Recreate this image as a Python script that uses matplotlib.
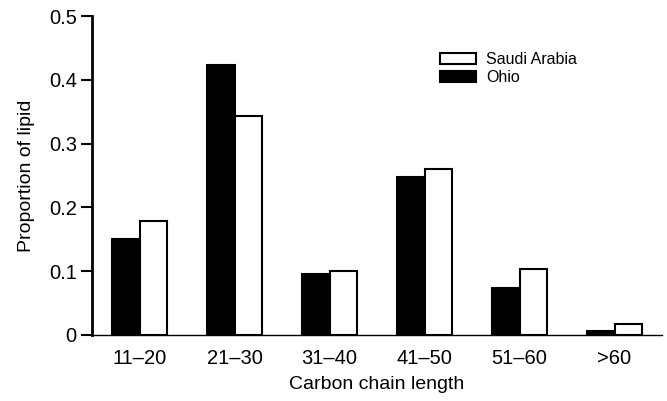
import matplotlib.pyplot as plt
import numpy as np

plt.rcParams['font.family'] = ['Liberation Sans', 'DejaVu Sans']

# data
categories = ['11–20', '21–30', '31–40', '41–50', '51–60', '>60']
ohio = [0.150, 0.423, 0.095, 0.247, 0.074, 0.007]
saudi = [0.178, 0.343, 0.100, 0.261, 0.103, 0.017]

fig = plt.figure(figsize=(6.67, 4.01), dpi=100)
ax = fig.add_axes([0.138, 0.1646, 0.8545, 0.7954])

x = np.arange(len(categories))
w = 0.29
ax.bar(x - w / 2, ohio, w, color='black', edgecolor='black', linewidth=1.5, label='Ohio')
ax.bar(x + w / 2, saudi, w, color='white', edgecolor='black', linewidth=1.5, label='Saudi Arabia')

ax.set_xlim(-0.5, 5.5)
ax.set_ylim(0, 0.5)
ax.set_xticks(x)
ax.set_xticklabels(categories, fontsize=14.5)
ax.set_yticks([0, 0.1, 0.2, 0.3, 0.4, 0.5])
ax.set_yticklabels(['0', '0.1', '0.2', '0.3', '0.4', '0.5'], fontsize=14.5)
ax.tick_params(axis='x', length=0, pad=10)
ax.tick_params(axis='y', length=8, width=1.5, pad=3)

ax.spines['top'].set_visible(False)
ax.spines['right'].set_visible(False)
ax.spines['left'].set_linewidth(2)
ax.spines['bottom'].set_linewidth(1)

ax.set_xlabel('Carbon chain length', fontsize=14, labelpad=6)
ax.set_ylabel('Proportion of lipid', fontsize=14, labelpad=10)

h, l = ax.get_legend_handles_labels()
ax.legend(h[::-1], l[::-1], loc='upper left', bbox_to_anchor=(0.6105, 0.887),
          frameon=False, fontsize=11.5, handlelength=2.25, handleheight=0.62,
          labelspacing=0.2, handletextpad=0.65, borderpad=0, borderaxespad=0)

fig.savefig('out.png', dpi=100)
